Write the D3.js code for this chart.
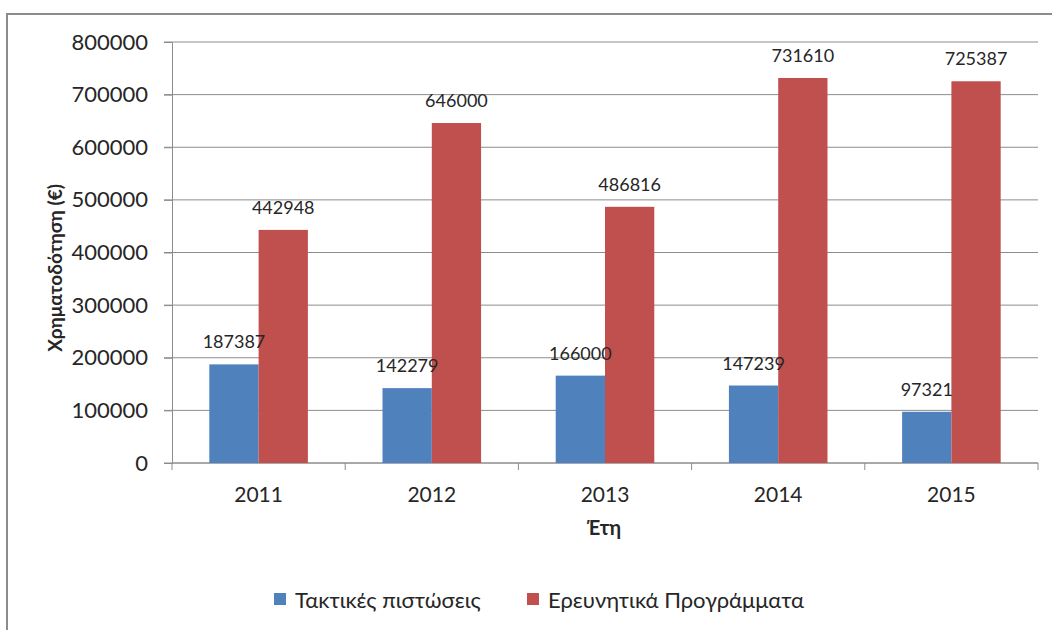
<!DOCTYPE html>
<html>
<head>
<meta charset="utf-8">
<script src="https://cdn.jsdelivr.net/npm/d3@7"></script>
<style>
  body { margin: 0; background: #fff; }
  text { font-family: Lato, 'Noto Sans', sans-serif; fill: #262626; }
</style>
</head>
<body>
<div id="viz"></div>
<script>
var width = 1052, height = 630;
var margin = {top: 42, right: 14, bottom: 167, left: 172};

var years = ['2011', '2012', '2013', '2014', '2015'];
var seriesNames = ['Τακτικές πιστώσεις', 'Ερευνητικά Προγράμματα'];
var regular = [187387, 142279, 166000, 147239, 97321];
var research = [442948, 646000, 486816, 731610, 725387];
var yTicks = [0, 100000, 200000, 300000, 400000, 500000, 600000, 700000, 800000];
var colors = ['#4F81BD', '#C0504D'];

var svg = d3.select('#viz').append('svg')
  .attr('width', width)
  .attr('height', height);

// outer chart border (right and bottom edges fall outside the picture)
svg.append('rect')
  .attr('x', 7).attr('y', 14)
  .attr('width', 1100).attr('height', 700)
  .attr('fill', 'none').attr('stroke', '#8c8c8c').attr('stroke-width', 2);

var x0 = d3.scaleBand().domain(years).range([margin.left, width - margin.right]).padding(0);
var x1 = d3.scaleBand().domain([0, 1]).range([0, x0.bandwidth()]).paddingInner(0).paddingOuter(0.757);
var y = d3.scaleLinear().domain([0, 800000]).range([height - margin.bottom, margin.top]);

var plot = svg.append('g');

// gridlines
plot.selectAll('.grid').data(yTicks).enter().append('line')
  .attr('class', 'grid')
  .attr('x1', margin.left - 8).attr('x2', width - margin.right)
  .attr('y1', function(d) { return y(d); }).attr('y2', function(d) { return y(d); })
  .attr('stroke', '#8c8c8c').attr('stroke-width', 1);

// y axis
var yAxis = plot.append('g')
  .attr('transform', 'translate(' + margin.left + ',0)')
  .call(d3.axisLeft(y).tickValues(yTicks).tickSize(8).tickFormat(d3.format('d')));
yAxis.select('.domain').attr('stroke', '#8c8c8c');
yAxis.selectAll('.tick line').attr('stroke', '#8c8c8c');
yAxis.selectAll('text').attr('font-size', 22).attr('x', -24).attr('fill', '#262626')
  .style('font-family', "Lato, 'Noto Sans', sans-serif");

// x axis
var xBase = y(0);
plot.append('line')
  .attr('x1', margin.left).attr('x2', width - margin.right)
  .attr('y1', xBase).attr('y2', xBase)
  .attr('stroke', '#8c8c8c');
var bounds = years.map(function(d) { return x0(d); }).concat([x0.range()[1]]);
plot.selectAll('.xtick').data(bounds).enter().append('line')
  .attr('x1', function(d) { return d; }).attr('x2', function(d) { return d; })
  .attr('y1', xBase).attr('y2', xBase + 7)
  .attr('stroke', '#8c8c8c');
plot.selectAll('.xlabel').data(years).enter().append('text')
  .attr('x', function(d) { return x0(d) + x0.bandwidth() / 2; })
  .attr('y', 502)
  .attr('text-anchor', 'middle')
  .attr('font-size', 21)
  .text(function(d) { return d; });

// bars
var groups = plot.selectAll('.year').data(years).enter().append('g')
  .attr('transform', function(d) { return 'translate(' + x0(d) + ',0)'; });

groups.selectAll('rect').data(function(d, i) { return [regular[i], research[i]]; })
  .enter().append('rect')
  .attr('x', function(d, j) { return x1(j); })
  .attr('y', function(d) { return y(d); })
  .attr('width', x1.bandwidth())
  .attr('height', function(d) { return y(0) - y(d); })
  .attr('fill', function(d, j) { return colors[j]; });

groups.selectAll('.lbl').data(function(d, i) { return [regular[i], research[i]]; })
  .enter().append('text')
  .attr('class', 'lbl')
  .attr('x', function(d, j) { return x1(j) + x1.bandwidth() / 2; })
  .attr('y', function(d) { return y(d) - 16; })
  .attr('text-anchor', 'middle')
  .attr('font-size', 18)
  .text(function(d) { return d; });

// axis titles
svg.append('text')
  .attr('transform', 'translate(62,268) rotate(-90)')
  .attr('text-anchor', 'middle')
  .attr('font-size', 19).attr('font-weight', 'bold')
  .text('Χρηματοδότηση (€)');

svg.append('text')
  .attr('x', 604).attr('y', 535)
  .attr('text-anchor', 'middle')
  .attr('font-size', 20).attr('font-weight', 'bold')
  .text('Έτη');

// legend
var legendX = [274, 527];
var legend = svg.selectAll('.legend').data(seriesNames).enter().append('g')
  .attr('transform', function(d, i) { return 'translate(' + legendX[i] + ',593)'; });
legend.append('rect')
  .attr('width', 12).attr('height', 12)
  .attr('fill', function(d, i) { return colors[i]; });
legend.append('text')
  .attr('x', 21).attr('y', 6)
  .attr('dominant-baseline', 'central')
  .attr('font-size', 22)
  .text(function(d) { return d; });
</script>
</body>
</html>
